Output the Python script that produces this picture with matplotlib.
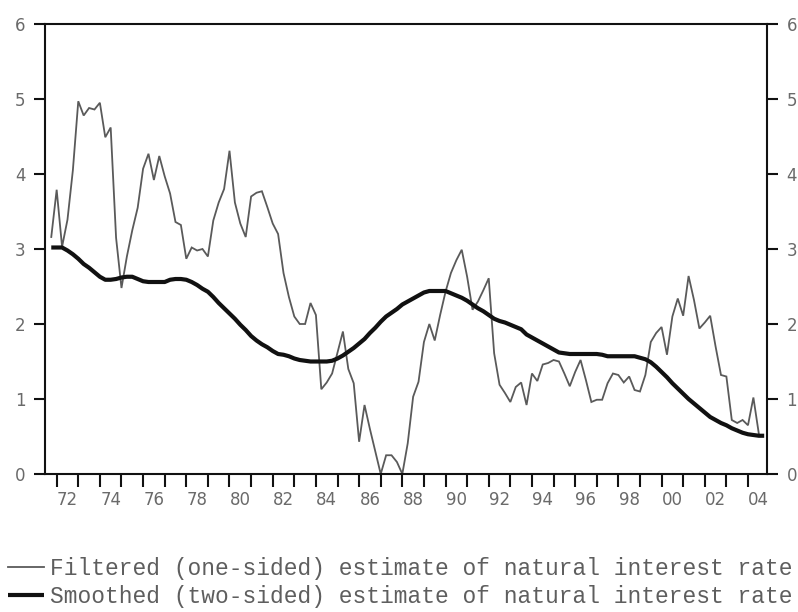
import numpy as np
import matplotlib
matplotlib.use("Agg")
import matplotlib.pyplot as plt
from matplotlib.ticker import FixedLocator, FixedFormatter, NullFormatter

# Quarterly estimates of the natural rate of interest (percent)
filtered_start = 1971.75
filtered = [
    3.16,
    3.79, 3.03, 3.39, 4.05,   # 1972
    4.97, 4.78, 4.88, 4.86,   # 1973
    4.95, 4.49, 4.62, 3.15,   # 1974
    2.48, 2.90, 3.25, 3.55,   # 1975
    4.07, 4.27, 3.92, 4.24,   # 1976
    3.97, 3.74, 3.36, 3.32,   # 1977
    2.87, 3.02, 2.98, 3.00,   # 1978
    2.90, 3.38, 3.62, 3.80,   # 1979
    4.31, 3.62, 3.34, 3.16,   # 1980
    3.70, 3.75, 3.77, 3.56,   # 1981
    3.34, 3.20, 2.68, 2.36,   # 1982
    2.10, 2.00, 2.00, 2.28,   # 1983
    2.12, 1.13, 1.22, 1.34,   # 1984
    1.62, 1.90, 1.40, 1.21,   # 1985
    0.43, 0.92, 0.60, 0.30,   # 1986
    0.00, 0.25, 0.25, 0.16,   # 1987
    0.00, 0.41, 1.03, 1.23,   # 1988
    1.76, 2.00, 1.78, 2.12,   # 1989
    2.43, 2.68, 2.85, 2.99,   # 1990
    2.63, 2.19, 2.30, 2.45,   # 1991
    2.61, 1.61, 1.19, 1.08,   # 1992
    0.96, 1.16, 1.22, 0.92,   # 1993
    1.34, 1.24, 1.46, 1.48,   # 1994
    1.52, 1.50, 1.34, 1.17,   # 1995
    1.36, 1.52, 1.25, 0.96,   # 1996
    0.99, 0.99, 1.21, 1.34,   # 1997
    1.32, 1.22, 1.30, 1.12,   # 1998
    1.10, 1.32, 1.76, 1.88,   # 1999
    1.96, 1.59, 2.10, 2.34,   # 2000
    2.11, 2.64, 2.32, 1.94,   # 2001
    2.02, 2.11, 1.70, 1.32,   # 2002
    1.30, 0.72, 0.68, 0.72,   # 2003
    0.65, 1.02, 0.54,         # 2004
]

smoothed_start = 1971.75
smoothed = [
    3.02,
    3.02, 3.02, 2.98, 2.93,   # 1972
    2.87, 2.80, 2.75, 2.69,   # 1973
    2.63, 2.59, 2.59, 2.60,   # 1974
    2.62, 2.63, 2.63, 2.60,   # 1975
    2.57, 2.56, 2.56, 2.56,   # 1976
    2.56, 2.59, 2.60, 2.60,   # 1977
    2.59, 2.56, 2.52, 2.47,   # 1978
    2.43, 2.36, 2.28, 2.21,   # 1979
    2.14, 2.07, 1.99, 1.92,   # 1980
    1.84, 1.78, 1.73, 1.69,   # 1981
    1.64, 1.60, 1.59, 1.57,   # 1982
    1.54, 1.52, 1.51, 1.50,   # 1983
    1.50, 1.50, 1.50, 1.51,   # 1984
    1.54, 1.58, 1.63, 1.68,   # 1985
    1.74, 1.80, 1.88, 1.95,   # 1986
    2.03, 2.10, 2.15, 2.20,   # 1987
    2.26, 2.30, 2.34, 2.38,   # 1988
    2.42, 2.44, 2.44, 2.44,   # 1989
    2.44, 2.41, 2.38, 2.35,   # 1990
    2.31, 2.26, 2.21, 2.17,   # 1991
    2.12, 2.07, 2.04, 2.02,   # 1992
    1.99, 1.96, 1.93, 1.86,   # 1993
    1.82, 1.78, 1.74, 1.70,   # 1994
    1.66, 1.62, 1.61, 1.60,   # 1995
    1.60, 1.60, 1.60, 1.60,   # 1996
    1.60, 1.59, 1.57, 1.57,   # 1997
    1.57, 1.57, 1.57, 1.57,   # 1998
    1.55, 1.53, 1.49, 1.43,   # 1999
    1.36, 1.29, 1.21, 1.14,   # 2000
    1.07, 1.00, 0.94, 0.88,   # 2001
    0.82, 0.76, 0.72, 0.68,   # 2002
    0.65, 0.61, 0.58, 0.55,   # 2003
    0.53, 0.52, 0.51, 0.51,   # 2004
]

year_ticks = list(range(1972, 2005))
label_years = list(range(1972, 2005, 2))
year_labels = [f"{y % 100:02d}" for y in label_years]
y_ticks = [0, 1, 2, 3, 4, 5, 6]
series_labels = [
    "Filtered (one-sided) estimate of natural interest rate",
    "Smoothed (two-sided) estimate of natural interest rate",
]

TICK_COLOR = "#6a6a6a"
TEXT_COLOR = "#5e5e5e"

W, H = 798, 612
fig = plt.figure(figsize=(W / 100, H / 100), dpi=100)
left, right, top, bottom = 45, 767, 24, 474
ax = fig.add_axes([left / W, 1 - bottom / H, (right - left) / W, (bottom - top) / H])

xf = filtered_start + 0.25 * np.arange(len(filtered))
xs = smoothed_start + 0.25 * np.arange(len(smoothed))
l1, = ax.plot(xf, filtered, color="#5a5a5a", lw=1.3, solid_joinstyle="miter")
l2, = ax.plot(xs, smoothed, color="#111111", lw=3.0, solid_capstyle="butt")

ax.set_xlim(1971.46, 2004.88)
ax.set_ylim(0, 6)

for s in ax.spines.values():
    s.set_linewidth(1.5)
    s.set_color("#111111")

# x axis: tick marks at each year boundary, labels centred in the year
ax.xaxis.set_major_locator(FixedLocator(year_ticks))
ax.xaxis.set_major_formatter(NullFormatter())
ax.xaxis.set_minor_locator(FixedLocator([y + 0.5 for y in label_years]))
ax.xaxis.set_minor_formatter(FixedFormatter(year_labels))
ax.tick_params(axis="x", which="major", direction="out", length=9, width=1.5, color="#111111")
ax.tick_params(axis="x", which="minor", length=0, pad=12, labelsize=12, labelcolor=TICK_COLOR)

# y axis on both sides
ax.set_yticks(y_ticks)
ax.tick_params(axis="y", which="major", direction="out", length=8, width=1.5, color="#111111",
               left=True, right=True, labelleft=True, labelright=True,
               labelsize=12, labelcolor=TICK_COLOR, pad=6)

leg = fig.legend([l1, l2], series_labels, loc="upper left",
                 bbox_to_anchor=(8 / W, 1 - 557 / H), bbox_transform=fig.transFigure,
                 frameon=False, borderaxespad=0, borderpad=0,
                 handlelength=1.55, handletextpad=0.3, labelspacing=0.22,
                 prop={"family": "Liberation Mono", "size": 16.5})
for t in leg.get_texts():
    t.set_color(TEXT_COLOR)

fig.savefig("out.png", dpi=100)
